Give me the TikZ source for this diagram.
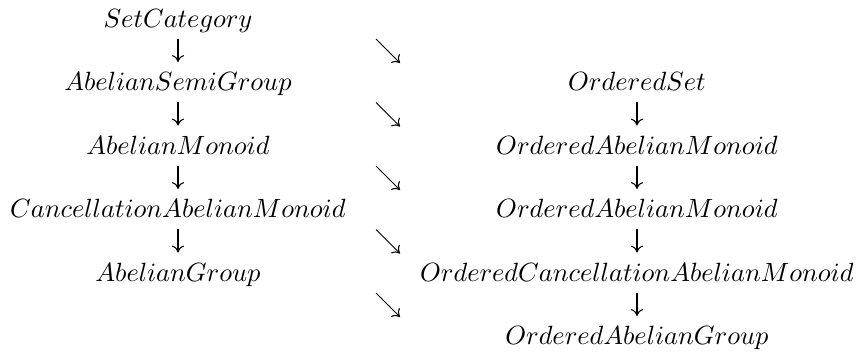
\documentclass[tikz,border=0pt]{standalone}
\usepackage{amsmath}
\usepackage{amssymb}
\usepackage{tikz}
\usetikzlibrary{arrows.meta}

\begin{document}
\begin{tikzpicture}[x=0.379pt, y=-0.379pt,
  >={Computer Modern Rightarrow[width=4.6pt, length=2.6pt]},
  cat/.style={anchor=base, inner sep=0pt},
  isa/.style={->, shorten <=4.5pt, shorten >=10.8pt}]
\useasboundingbox (0,0) rectangle (865,352);
% left column
\node[cat] (setcat) at (178,27) {$SetCategory$};
\node[cat] (asg) at (178,90.5) {$AbelianSemiGroup$};
\node[cat] (am) at (178,154) {$AbelianMonoid$};
\node[cat] (cam) at (178,217.5) {$CancellationAbelianMonoid$};
\node[cat] (ag) at (178,281) {$AbelianGroup$};
% right column
\node[cat] (oset) at (637,90.5) {$OrderedSet$};
\node[cat] (oam) at (637,154) {$OrderedAbelianMonoid$};
\node[cat] (oamb) at (637,217.5) {$OrderedAbelianMonoid$};
\node[cat] (ocam) at (637,281) {$OrderedCancellationAbelianMonoid$};
\node[cat] (oag) at (637,344.5) {$OrderedAbelianGroup$};
\draw[isa] (setcat.base) -- (asg.base);
\draw[isa] (asg.base) -- (am.base);
\draw[isa] (am.base) -- (cam.base);
\draw[isa] (cam.base) -- (ag.base);
\draw[isa] (oset.base) -- (oam.base);
\draw[isa] (oam.base) -- (oamb.base);
\draw[isa] (oamb.base) -- (ocam.base);
\draw[isa] (ocam.base) -- (oag.base);
% diagonal arrows
\foreach \k in {0,...,4} {
  \coordinate (d\k a) at (376,39+63.5*\k);
  \coordinate (d\k b) at (400,63+63.5*\k);
  \draw[->] (d\k a) -- (d\k b);
}
\end{tikzpicture}
\end{document}
